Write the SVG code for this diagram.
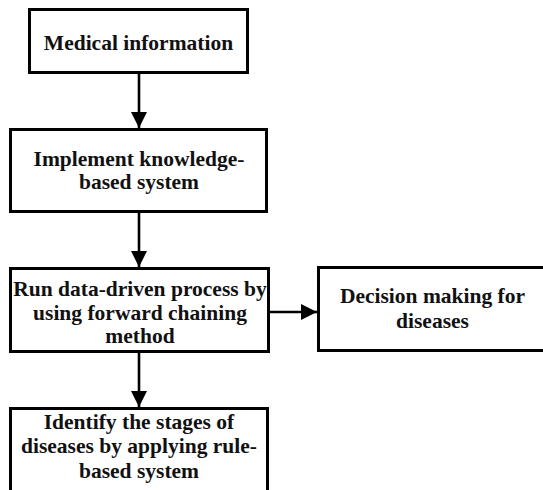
<svg xmlns="http://www.w3.org/2000/svg" width="543" height="490" viewBox="0 0 543 490">
  <style>
    .box { fill: #ffffff; stroke: #000000; stroke-width: 3; }
    .lbl { font-family: 'Liberation Serif', 'DejaVu Serif', serif; font-weight: 700; font-size: 21.5px; fill: #111111; text-anchor: middle; }
    .edge { stroke: #000000; stroke-width: 2.6; fill: none; marker-end: url(#arrow); }
  </style>
  <defs>
    <marker id="arrow" markerUnits="userSpaceOnUse" markerWidth="18" markerHeight="18" refX="16" refY="8" orient="auto">
      <path d="M0,0 L16,8 L0,16 Z" fill="#000000"/>
    </marker>
  </defs>
  <rect width="543" height="490" fill="#ffffff"/>

  <g id="connectors">
    <line class="edge" x1="139" y1="74" x2="139" y2="128"/>
    <line class="edge" x1="139" y1="213" x2="139" y2="267"/>
    <line class="edge" x1="270" y1="312" x2="317" y2="312"/>
    <line class="edge" x1="139" y1="353" x2="139" y2="407"/>
  </g>

  <g id="medical-information">
    <rect class="box" x="29.5" y="9.5" width="218" height="63"/>
    <text class="lbl" x="138.5" y="50">Medical information</text>
  </g>

  <g id="knowledge-based-system">
    <rect class="box" x="10.5" y="129.5" width="256" height="82"/>
    <text class="lbl" x="139" y="166">Implement knowledge-</text>
    <text class="lbl" x="139" y="189">based system</text>
  </g>

  <g id="forward-chaining">
    <rect class="box" x="10.5" y="268.5" width="258" height="83"/>
    <text class="lbl" x="140" y="296">Run data-driven process by</text>
    <text class="lbl" x="140" y="319.5">using forward chaining</text>
    <text class="lbl" x="140" y="342.5">method</text>
  </g>

  <g id="decision-making">
    <rect class="box" x="318.5" y="267.5" width="240" height="83"/>
    <text class="lbl" x="432.5" y="303">Decision making for</text>
    <text class="lbl" x="432.5" y="328">diseases</text>
  </g>

  <g id="disease-stages">
    <rect class="box" x="10.5" y="408.5" width="257" height="100"/>
    <text class="lbl" x="139" y="428.5">Identify the stages of</text>
    <text class="lbl" x="139" y="453">diseases by applying rule-</text>
    <text class="lbl" x="139" y="477.5">based system</text>
  </g>
</svg>
